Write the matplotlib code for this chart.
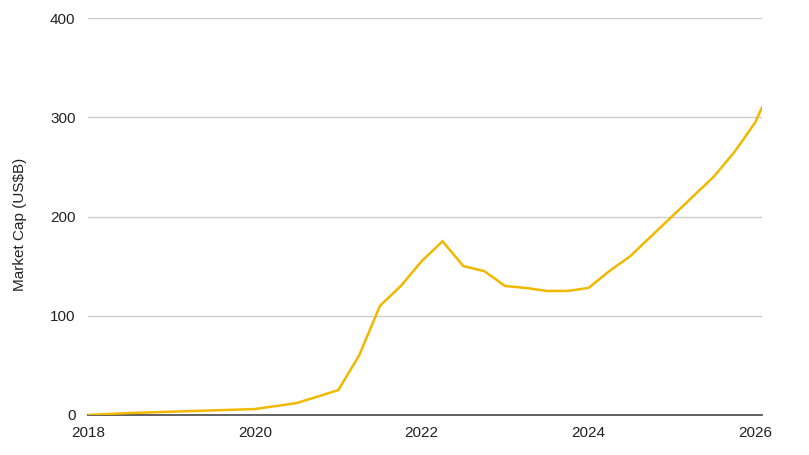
import matplotlib.pyplot as plt

plt.rcParams['font.family'] = ['Liberation Sans', 'DejaVu Sans']

# quarterly-ish points
years = [2018.0, 2018.5, 2020.0, 2020.5, 2021.0, 2021.25, 2021.5, 2021.75,
         2022.0, 2022.25, 2022.5, 2022.75, 2023.0, 2023.25, 2023.5, 2023.75,
         2024.0, 2024.25, 2024.5, 2024.75, 2025.0, 2025.25, 2025.5, 2025.75,
         2026.0, 2026.08]
market_cap = [0, 2, 6, 12, 25, 60, 110, 130,
              155, 175, 150, 145, 130, 128, 125, 125,
              128, 145, 160, 180, 200, 220, 240, 265,
              295, 310]
x_ticks = [2018, 2020, 2022, 2024, 2026]
y_ticks = [0, 100, 200, 300, 400]

fig = plt.figure(figsize=(8.09, 4.55), dpi=100)
ax = fig.add_axes([88 / 809, 1 - 415 / 455, (762 - 88) / 809, (415 - 18) / 455])

ax.plot(years, market_cap, color='#F1B800', linewidth=1.8, solid_joinstyle='miter', zorder=3)

ax.set_xlim(2018, 2026.08)
ax.set_ylim(0, 400)
ax.set_xticks(x_ticks)
ax.set_yticks(y_ticks)
ax.tick_params(axis='both', length=0, labelsize=11, labelcolor='#222222')
ax.tick_params(axis='x', pad=8)
ax.tick_params(axis='y', pad=9)
ax.grid(axis='y', color='#cccccc', linewidth=1)
ax.set_axisbelow(True)

for s in ['top', 'right', 'left']:
    ax.spines[s].set_visible(False)
ax.spines['bottom'].set_color('#555555')
ax.spines['bottom'].set_linewidth(1.3)
ax.spines['bottom'].set_zorder(2)

ax.set_ylabel('Market Cap (US$B)', fontsize=11, color='#222222')
ax.yaxis.set_label_coords(-0.09, 0.479)

fig.savefig('out.png', dpi=100)
